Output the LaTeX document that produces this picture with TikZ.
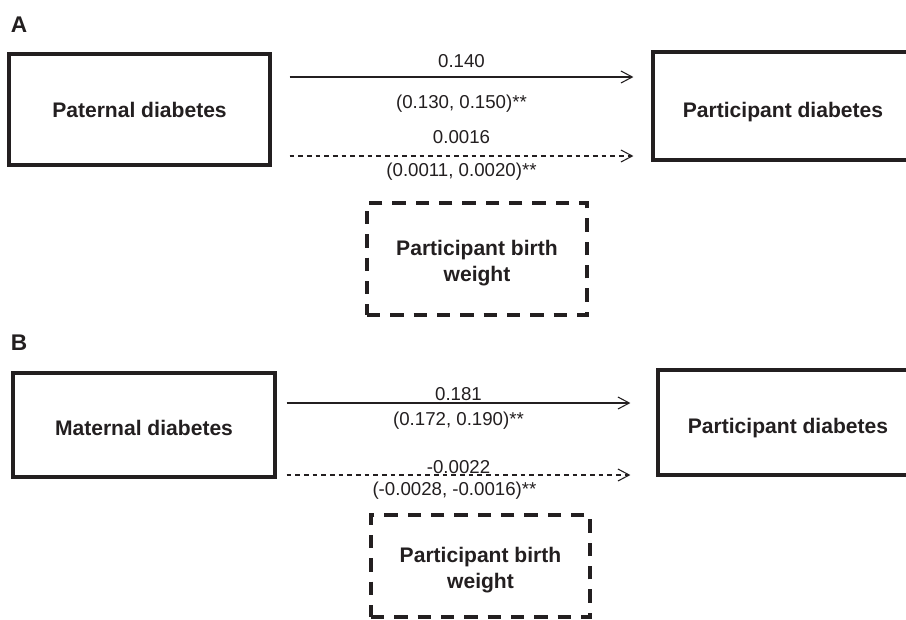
\documentclass[tikz,border=0pt]{standalone}
\usepackage{fontspec}
\setmainfont{Liberation Sans}
\usetikzlibrary{arrows.meta,calc}
\definecolor{ink}{RGB}{35,31,32}
\newcommand\shiftdown[2]{\raisebox{-#1}[\height][\depth]{#2}}
\newcommand\twolines[2]{\begin{tabular}{@{}c@{}}#1\\#2\end{tabular}}
\begin{document}
\begin{tikzpicture}[x=0.75pt,y=-0.75pt,
 box/.style={draw=ink, line width=2.4pt, inner sep=0pt, font=\fontsize{15.8}{19.5}\selectfont\bfseries, text=ink, align=center},
 dbox/.style={box, line width=3pt, dash pattern=on 10pt off 7.5pt},
 arr/.style={draw=ink, line width=0.8pt, -{Straight Barb[length=8.5pt,width=9pt,line width=0.8pt]}},
 darr/.style={arr, dash pattern=on 3.5pt off 3pt},
 lbl/.style={font=\fontsize{14}{16}\selectfont, text=ink, inner sep=0pt},
 panel/.style={font=\fontsize{17}{20}\selectfont\bfseries, text=ink, inner sep=0pt}]
\clip (0,0) rectangle (906,619);
\fill[white] (0,0) rectangle (906,619);

% Panel A
\node[panel] (pA) at (19,25) {A};
\node[box, minimum width=195.75pt, minimum height=83.25pt] (pat) at (139.5,109.5) {\shiftdown{0.5pt}{Paternal diabetes}};
\node[box, minimum width=195pt, minimum height=81pt] (pdA) at (783,106) {\shiftdown{4.5pt}{Participant diabetes}};
\node[dbox, minimum width=165pt, minimum height=84pt] (bwA) at (477,259) {\shiftdown{3pt}{\twolines{Participant birth}{weight}}};

\draw[arr] ($(pat.east)+(18,-32.5)$) -- node[lbl, midway, yshift=12pt] (a1) {0.140}
  node[lbl, midway, yshift=-20pt] (a2) {(0.130, 0.150)**} ($(pdA.west)+(-18,-29)$);
\draw[darr] ($(pat.east)+(18,46.5)$) -- node[lbl, midway, yshift=14.25pt] (a3) {0.0016}
  node[lbl, midway, yshift=-12pt] (a4) {(0.0011, 0.0020)**} ($(pdA.west)+(-18,50)$);

% Panel B
\node[panel] (pB) at (19,343) {B};
\node[box, minimum width=196.5pt, minimum height=78pt] (mat) at (144,425) {\shiftdown{2pt}{Maternal diabetes}};
\node[box, minimum width=195pt, minimum height=78.75pt] (pdB) at (788,422.5) {\shiftdown{4.5pt}{Participant diabetes}};
\node[dbox, minimum width=164.25pt, minimum height=76.5pt] (bwB) at (480.5,566) {\shiftdown{3.5pt}{\twolines{Participant birth}{weight}}};

\draw[arr] ($(mat.east)+(10,-22)$) -- node[lbl, midway, yshift=7pt] (b1) {0.181}
  node[lbl, midway, yshift=-13.5pt] (b2) {(0.172, 0.190)**} ($(pdB.west)+(-26,-19.5)$);
\draw[darr] ($(mat.east)+(10,50)$) -- node[lbl, midway, yshift=6pt] (b3) {-0.0022}
  node[lbl, midway, yshift=-12pt, xshift=-3pt] (b4) {(-0.0028, -0.0016)**} ($(pdB.west)+(-26,52.5)$);
\end{tikzpicture}
\end{document}
